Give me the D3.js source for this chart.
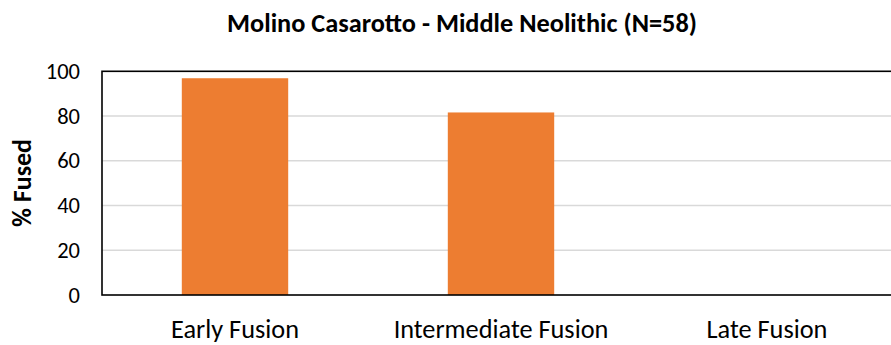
<!DOCTYPE html>
<html>
<head>
<meta charset="utf-8">
<script src="https://cdn.jsdelivr.net/npm/d3@7"></script>
<style>
  html, body { margin: 0; padding: 0; background: #fff; }
  svg { display: block; font-family: Carlito, Calibri, "Open Sans", sans-serif; }
</style>
</head>
<body>
<svg id="chart" width="891" height="345"></svg>
<script>
const categories = ["Early Fusion", "Intermediate Fusion", "Late Fusion"];
const fusedPct = [96.9, 81.6, 0];
const yTicks = [0, 20, 40, 60, 80, 100];
const chartTitle = "Molino Casarotto - Middle Neolithic (N=58)";
const yTitle = "% Fused";

const svg = d3.select("#chart");
const fontStack = "Carlito, Calibri, 'Open Sans', sans-serif";
const W = 891, H = 345;
const x0 = 102, x1 = 900;
const y0 = 295, y1 = 71.3;

const x = d3.scaleBand().domain(categories).range([x0, x1]).paddingInner(0.6).paddingOuter(0.3);
const y = d3.scaleLinear().domain([0, 100]).range([y0, y1]);

// gridlines
svg.append("g").selectAll("line").data(yTicks.filter(t => t > 0 && t < 100)).join("line")
  .attr("x1", x0).attr("x2", x1)
  .attr("y1", d => y(d)).attr("y2", d => y(d))
  .attr("stroke", "#d9d9d9").attr("stroke-width", 1.5);

// bars
svg.append("g").selectAll("rect").data(categories).join("rect")
  .attr("x", d => x(d))
  .attr("width", x.bandwidth())
  .attr("y", (d, i) => y(fusedPct[i]))
  .attr("height", (d, i) => y0 - y(fusedPct[i]))
  .attr("fill", "#ed7d31");

// frame
svg.append("rect")
  .attr("x", x0).attr("y", y1)
  .attr("width", x1 - x0).attr("height", y0 - y1)
  .attr("fill", "none").attr("stroke", "#000").attr("stroke-width", 1.6);

// y axis tick labels
const yAxis = d3.axisLeft(y).tickValues(yTicks).tickSize(0).tickPadding(22);
const gy = svg.append("g").attr("transform", `translate(${x0},0)`).call(yAxis);
gy.select(".domain").remove();
gy.selectAll("text").attr("font-size", 22.5).attr("fill", "#000")
  .attr("font-family", fontStack);

// x axis labels
const xAxis = d3.axisBottom(x).tickSize(0).tickPadding(0);
const gx = svg.append("g").attr("transform", `translate(0,${y0})`).call(xAxis);
gx.select(".domain").remove();
gx.selectAll("text").attr("font-size", 26.3).attr("fill", "#000")
  .attr("font-family", fontStack)
  .attr("y", 43).attr("dy", null);

// titles
svg.append("text").attr("x", 462).attr("y", 32)
  .attr("text-anchor", "middle").attr("font-size", 26.3).attr("font-weight", "bold")
  .text(chartTitle);

svg.append("text")
  .attr("transform", `translate(31,183) rotate(-90)`)
  .attr("text-anchor", "middle").attr("font-size", 26).attr("font-weight", "bold")
  .text(yTitle);
</script>
</body>
</html>
